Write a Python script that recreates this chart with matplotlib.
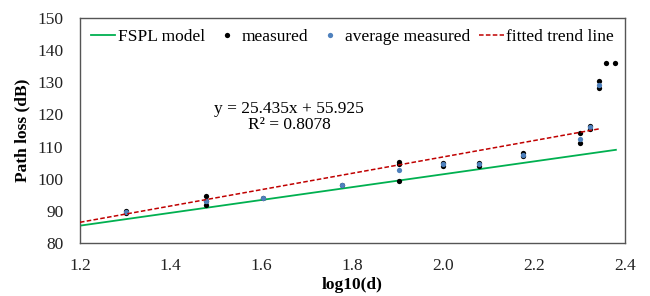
"""
Path loss vs log10(d): measured points, averages, FSPL model and fitted trend
"""
import matplotlib
matplotlib.use('Agg')
import matplotlib.pyplot as plt

# measured samples (log10 distance, path loss dB)
meas_x = [1.301, 1.301, 1.477, 1.477, 1.477, 1.602, 1.778,
          1.903, 1.903, 1.903, 2.000, 2.000, 2.079, 2.079,
          2.176, 2.176, 2.301, 2.301, 2.322, 2.322, 2.342, 2.342,
          2.358, 2.378]
meas_y = [89.3, 90.0, 94.5, 93.2, 91.8, 94.0, 98.0,
          105.2, 104.6, 99.3, 105.0, 104.0, 105.0, 104.0,
          108.0, 107.0, 114.2, 111.0, 116.5, 115.5, 130.3, 128.3,
          136.1, 136.1]

# averages per distance
avg_x = [1.301, 1.477, 1.602, 1.778, 1.903, 2.000, 2.079, 2.176, 2.301, 2.322, 2.342]
avg_y = [89.8, 93.2, 94.0, 98.0, 102.8, 104.5, 104.5, 107.5, 112.4, 116.0, 129.3]

# FSPL model line endpoints
fspl_x = [1.2, 2.38]
fspl_y = [85.4, 109.0]

# fitted trend line
trend_slope = 25.435
trend_icpt = 55.925
trend_x = [1.2, 2.345]

if __name__ == '__main__':
    plt.rcParams['font.family'] = ['Liberation Serif', 'DejaVu Serif']
    fig = plt.figure(figsize=(6.5, 2.96), dpi=100)
    ax = fig.add_axes([0.123, 0.179, 0.8385, 0.760])

    ax.plot(fspl_x, fspl_y, color='#00B050', lw=1.3, label='FSPL model', zorder=2)
    ax.plot(meas_x, meas_y, 'o', color='black', ms=3.8, mew=0, label='measured', zorder=3)
    ax.plot(avg_x, avg_y, 'o', color='#4F81BD', ms=3.8, mew=0, label='average measured', zorder=4)
    trend_y = [trend_slope * x + trend_icpt for x in trend_x]
    ax.plot(trend_x, trend_y, '--', color='#C00000', lw=1.1, dashes=(3, 1.5),
            label='fitted trend line', zorder=5)

    ax.text(1.66, 119.2, 'y = 25.435x + 55.925\nR² = 0.8078', ha='center', va='center',
            fontsize=12.5, linespacing=1.05)

    ax.set_xlim(1.2, 2.4)
    ax.set_ylim(80, 150)
    ax.set_xticks([1.2, 1.4, 1.6, 1.8, 2.0, 2.2, 2.4])
    ax.set_xticklabels(['1.2', '1.4', '1.6', '1.8', '2.0', '2.2', '2.4'])
    ax.set_yticks(range(80, 151, 10))
    ax.tick_params(axis='x', pad=11)
    ax.tick_params(axis='y', pad=12)
    ax.tick_params(length=0, labelsize=12.5, colors='#222222')
    for s in ax.spines.values():
        s.set_color('#555555')
        s.set_linewidth(1.0)

    ax.set_xlabel('log10(d)', fontsize=12.5, fontweight='bold', labelpad=2)
    ax.set_ylabel('Path loss (dB)', fontsize=12.5, fontweight='bold', labelpad=5)

    ax.legend(loc='upper center', ncol=4, frameon=False, fontsize=12.5,
              handlelength=1.4, handletextpad=0.15, columnspacing=0.55,
              borderaxespad=0.2, bbox_to_anchor=(0.5, 1.0))

    fig.savefig('out.png', dpi=100)
